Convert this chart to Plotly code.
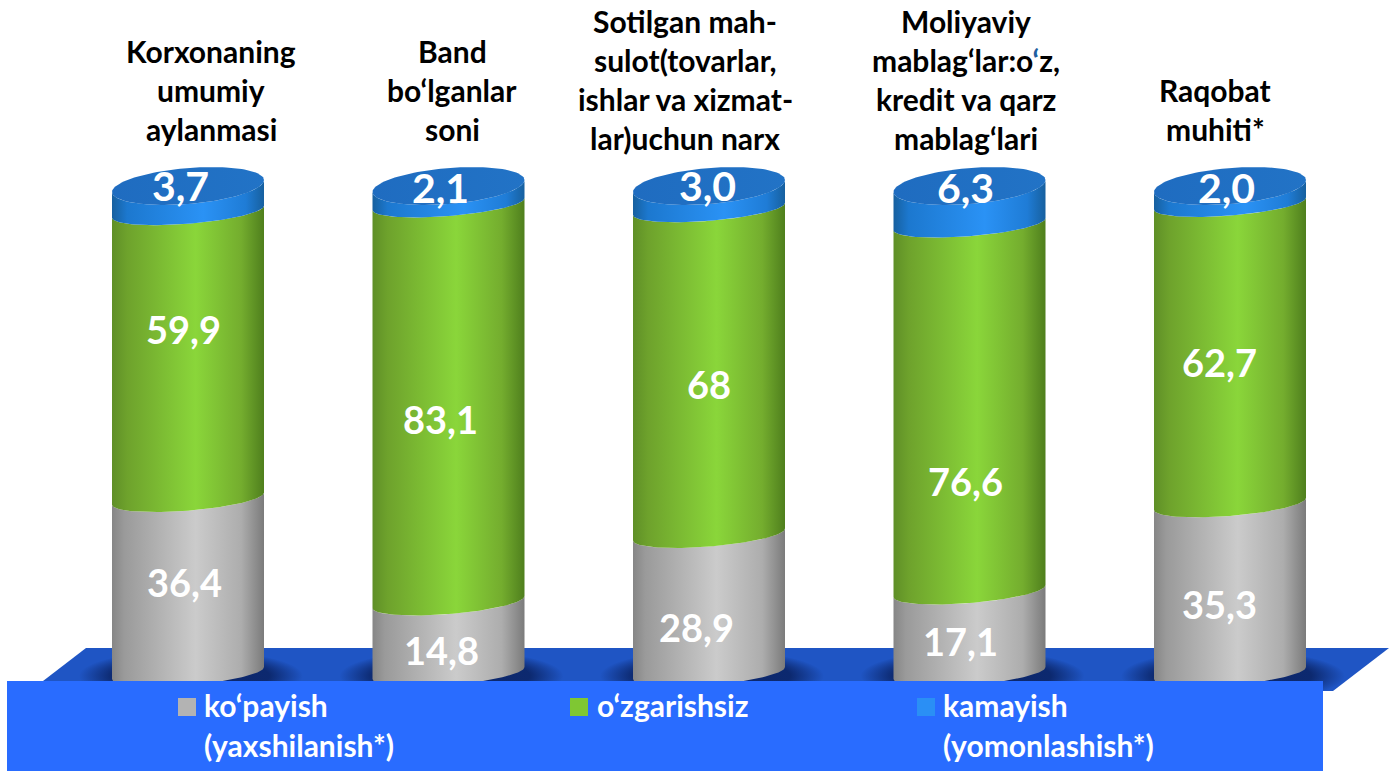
import numpy as np
import plotly.graph_objects as go

categories = [
    ["Korxonaning", "umumiy", "aylanmasi"],
    ["Band", "bo‘lganlar", "soni"],
    ["Sotilgan mah-", "sulot(tovarlar,", "ishlar va xizmat-", "lar)uchun narx"],
    ["Moliyaviy", "mablag‘lar:o<span style='color:#1f5f9f'>‘</span>z,", "kredit va qarz", "mablag‘lari"],
    ["Raqobat", "muhiti*"],
]
increase = [36.4, 14.8, 28.9, 17.1, 35.3]
unchanged = [59.9, 83.1, 68, 76.6, 62.7]
decrease = [3.7, 2.1, 3.0, 6.3, 2.0]
increase_text = ["36,4", "14,8", "28,9", "17,1", "35,3"]
unchanged_text = ["59,9", "83,1", "68", "76,6", "62,7"]
decrease_text = ["3,7", "2,1", "3,0", "6,3", "2,0"]
series_names = [["ko‘payish", "(yaxshilanish*)"], ["o‘zgarishsiz"], ["kamayish", "(yomonlashish*)"]]

# layout constants (pixels)
W, H = 1393, 771
X0, DX = 188.0, 260.5
V0, S = 673.0, 4.79
A, B, T = 76.0, 12.0, 6.0
CAP_CY, CAP_B = 186.0, 18.0
inc_label_x = [184, 441, 696, 960, 1219]
unc_label_x = [183, 440, 709, 965, 1219]
dec_label_x = [180, 440, 707, 965, 1226]
inc_label_y = [582, 650, 627, 641, 604]
unc_label_y = [329, 419, 384, 481, 362]
dec_label_y = [185, 187, 185, 187, 187]
title_x = [211, 452, 685, 966, 1215]
title_bottom_y = [129, 129, 138, 138, 129]
LINE = 39
legend_x = [202, 595, 941]
legend_swatch_x = [178, 570, 917]
legend_swatch_col = ["#b3b3b3", "#7fc733", "#2a8ff5"]
legend_y = [705, 745]

def xv(px): return (px - X0) / DX
def yv(px): return (V0 - px) / S

GREY = [[0, "#868686"], [0.08, "#9a9a9a"], [0.55, "#cbcbcb"], [0.85, "#adadad"], [1, "#7b7b7b"]]
GREEN = [[0, "#5f8f27"], [0.1, "#6ea22c"], [0.55, "#8ad63a"], [0.85, "#74ad2e"], [1, "#4f7f1d"]]
BLUE = [[0, "#17609f"], [0.1, "#1c78cf"], [0.6, "#2a92f5"], [0.88, "#1f7cd6"], [1, "#17609f"]]
CAP = [[0, "#1f6cc0"], [1, "#2273c6"]]
SHADOW = [[0, "rgba(8,30,90,0.85)"], [0.7, "rgba(8,30,90,0.8)"], [1, "rgba(8,30,90,0)"]]

theta = np.linspace(0, np.pi, 61)
full = np.linspace(0, 2 * np.pi, 121)

def front(i, v):
    xc = X0 + i * DX
    return xc + A * np.cos(theta), V0 - v * S - T * np.cos(theta) + B * np.sin(theta)

def cap_front(i, sign=1):
    xc = X0 + i * DX
    return xc + A * np.cos(theta), CAP_CY - T * np.cos(theta) + sign * CAP_B * np.sin(theta)

fig = go.Figure()

def poly(px_x, px_y, scale, name, kind="horizontal"):
    fig.add_trace(go.Scatter(x=xv(np.asarray(px_x)), y=yv(np.asarray(px_y)), mode="lines",
                             line=dict(width=0), fill="toself",
                             fillgradient=dict(type=kind, colorscale=scale),
                             hoverinfo="skip", showlegend=False, name=name))

# soft floor shadow round each base
for i in range(5):
    xc = X0 + i * DX
    poly(xc + 3 + (A + 36) * np.cos(full), 676 + 26 * np.sin(full), SHADOW, "shadow", "radial")

for i in range(5):
    a, b = increase[i], unchanged[i]
    x0, y0 = front(i, 0)
    x1, y1 = front(i, a)
    poly(np.r_[x0, x1[::-1]], np.r_[y0, y1[::-1]], GREY, "increase")
    x2, y2 = front(i, a + b)
    poly(np.r_[x1, x2[::-1]], np.r_[y1, y2[::-1]], GREEN, "unchanged")
    xt, yt = cap_front(i)
    poly(np.r_[x2, xt[::-1]], np.r_[y2, yt[::-1]], BLUE, "decrease")
    xu, yu = cap_front(i, -1)
    poly(np.r_[xt, xu[::-1]], np.r_[yt, yu[::-1]], CAP, "cap")

shapes = [
    dict(type="path", layer="below", xref="x", yref="y", line_width=0, fillcolor="#1f55c4",
         path=f"M{xv(86)},{yv(648)} L{xv(1389)},{yv(648)} L{xv(1333)},{yv(691)} L{xv(30)},{yv(691)} Z"),
    dict(type="rect", xref="x", yref="y", x0=xv(7), x1=xv(1323), y0=yv(681), y1=yv(771),
         line_width=0, fillcolor="#296cff", layer="above"),
]
for sx, col in zip(legend_swatch_x, legend_swatch_col):
    shapes.append(dict(type="rect", xref="x", yref="y", x0=xv(sx), x1=xv(sx + 18), y0=yv(698), y1=yv(716),
                       line_width=0, fillcolor=col, layer="above"))

ann = []
def text(px, py, s, size, color, anchor="center"):
    ann.append(dict(x=xv(px), y=yv(py), xref="x", yref="y", text=s, showarrow=False, xanchor=anchor,
                    yanchor="middle", font=dict(family="Lato", size=size, color=color, weight=700)))

for i in range(5):
    text(inc_label_x[i], inc_label_y[i], increase_text[i], 38, "white")
    text(unc_label_x[i], unc_label_y[i], unchanged_text[i], 38, "white")
    text(dec_label_x[i], dec_label_y[i], decrease_text[i], 41, "white")
    lines = categories[i]
    for k, ln in enumerate(lines):
        text(title_x[i], title_bottom_y[i] - (len(lines) - 1 - k) * LINE, ln, 30, "black")

for names, lx in zip(series_names, legend_x):
    for ln, ly in zip(names, legend_y):
        text(lx, ly, ln, 30, "white", "left")

fig.update_layout(
    width=W, height=H, margin=dict(l=0, r=0, t=0, b=0), paper_bgcolor="white", plot_bgcolor="white",
    showlegend=False, shapes=shapes, annotations=ann,
    xaxis=dict(range=[xv(0), xv(W)], visible=False, fixedrange=True),
    yaxis=dict(range=[yv(H), yv(0)], visible=False, fixedrange=True),
)
fig.write_html("out.html", config=dict(displayModeBar=False),
               post_script="document.body.style.margin='0';document.body.style.overflow='hidden';")
